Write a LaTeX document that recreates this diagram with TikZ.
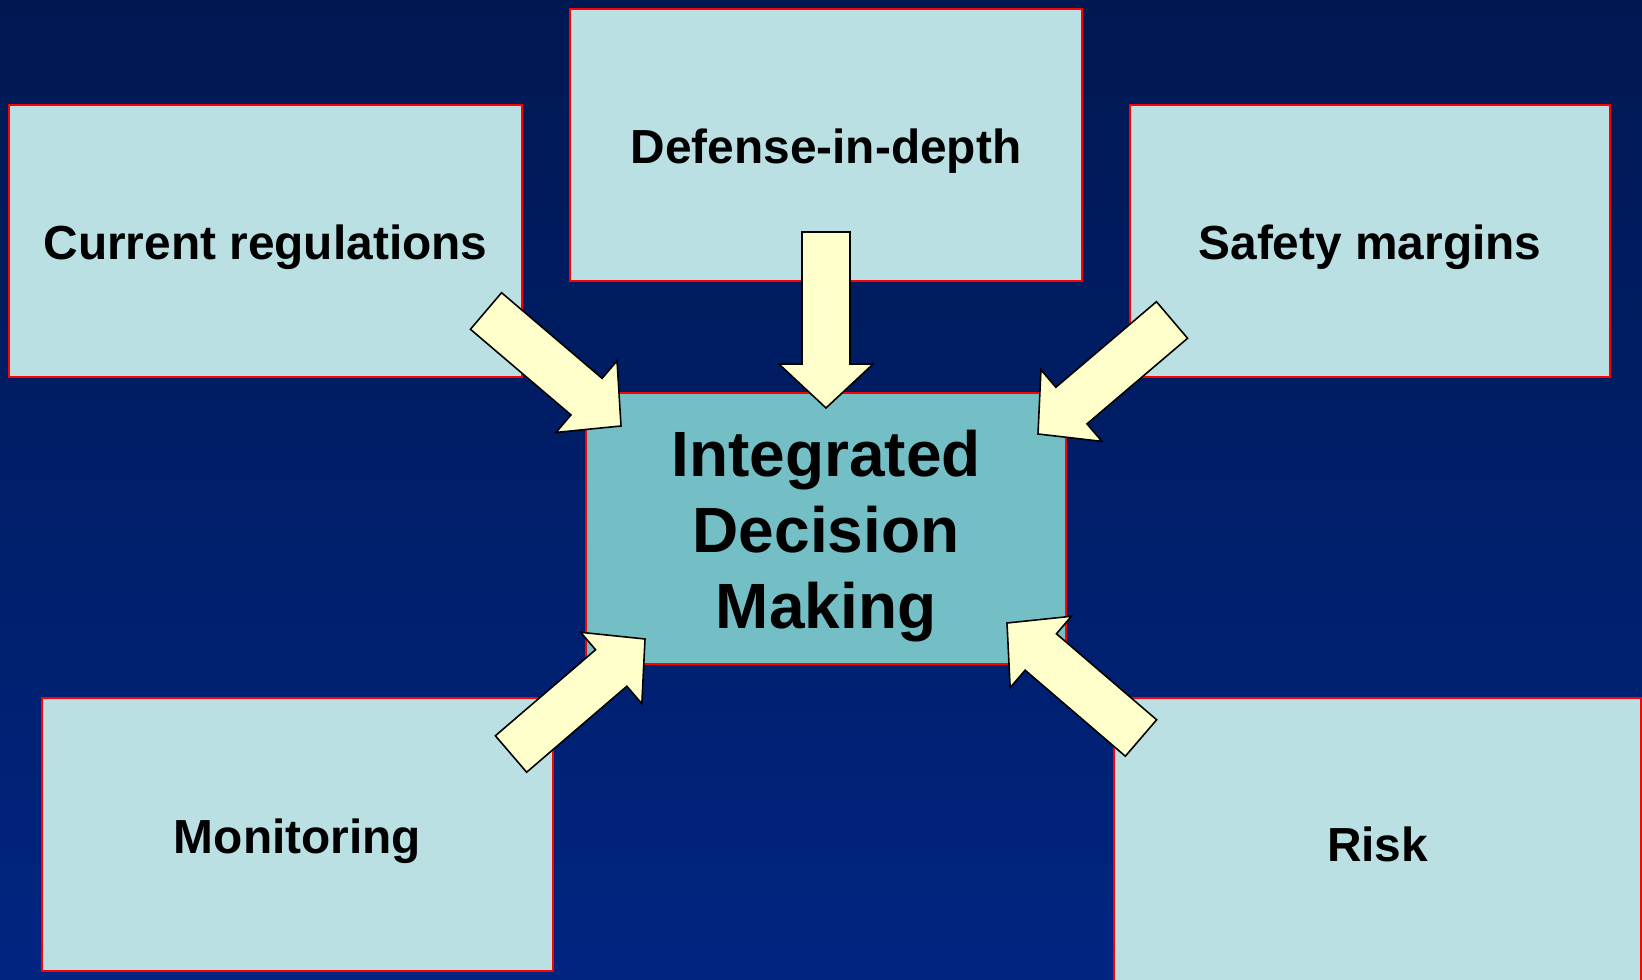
\documentclass[tikz,border=0pt]{standalone}
\usepackage{fontspec}
\setmainfont{Liberation Sans}
\usetikzlibrary{calc}
\definecolor{bgtop}{RGB}{0,24,82}
\definecolor{bgbot}{RGB}{0,36,128}
\definecolor{boxbg}{RGB}{186,224,227}
\definecolor{hubbg}{RGB}{116,191,197}
\definecolor{arrowbg}{RGB}{255,255,204}

\tikzset{
  box/.style={draw=red,line width=0.6pt,fill=boxbg},
  hub/.style={box,fill=hubbg},
  arrowbody/.style={draw=black,line width=0.45pt,fill=arrowbg,line join=miter},
  boxtext/.style={font=\bfseries\fontsize{13.6}{16}\selectfont,
    text height=0.74em,text depth=0.21em,yshift=-0.095cm},
  hubtext/.style={font=\bfseries\fontsize{18.2}{21.6}\selectfont,
    align=center,yshift=-0.08cm},
}

% block arrow from tail #1 to tip #2
\newcommand{\bigarrow}[2]{%
  \coordinate (neck) at ($(#1)!1.32cm!(#2)$);
  \draw[arrowbody] ($(#1)!0.24cm!90:(#2)$)
    -- ($(neck)!0.24cm!90:(#2)$) -- ($(neck)!0.47cm!90:(#2)$)
    -- (#2)
    -- ($(neck)!0.47cm!-90:(#2)$) -- ($(neck)!0.24cm!-90:(#2)$)
    -- ($(#1)!0.24cm!-90:(#2)$) -- cycle;
}

\begin{document}
\begin{tikzpicture}[x=0.01cm,y=-0.01cm]
    \useasboundingbox (0,0) rectangle (1642,980);
    \clip (0,0) rectangle (1642,980);
    % Background
    \shade[top color=bgtop,bottom color=bgbot] (0,0) rectangle (1642,980);
    % Boxes
    \draw[box] (9,105) rectangle (522,377)
      node[midway,boxtext] (regs) {Current regulations};
    \draw[box] (570,9) rectangle (1082,281)
      node[midway,boxtext] (depth) {Defense-in-depth};
    \draw[box] (1130,105) rectangle (1610,377)
      node[midway,boxtext] (margins) {Safety margins};
    \draw[box] (42,698) rectangle (553,971)
      node[midway,boxtext] (monitor) {Monitoring};
    \draw[box] (1114,698) rectangle (1641,987)
      node[midway,boxtext] (risk) {Risk};
    \draw[hub] (586,393) rectangle (1066,664)
      node[midway,hubtext] (idm) {Integrated\\Decision\\Making};
    % Arrows
    \coordinate (regs-tail) at (486,311);
    \coordinate (regs-tip) at (621,426);
    \coordinate (depth-tail) at (826,232);
    \coordinate (depth-tip) at (826,408);
    \coordinate (margins-tail) at (1172,320);
    \coordinate (margins-tip) at (1038,434);
    \coordinate (monitor-tail) at (511,754);
    \coordinate (monitor-tip) at (645,639);
    \coordinate (risk-tail) at (1141,738);
    \coordinate (risk-tip) at (1007,623);
    \bigarrow{regs-tail}{regs-tip}
    \bigarrow{depth-tail}{depth-tip}
    \bigarrow{margins-tail}{margins-tip}
    \bigarrow{monitor-tail}{monitor-tip}
    \bigarrow{risk-tail}{risk-tip}
\end{tikzpicture}
\end{document}
